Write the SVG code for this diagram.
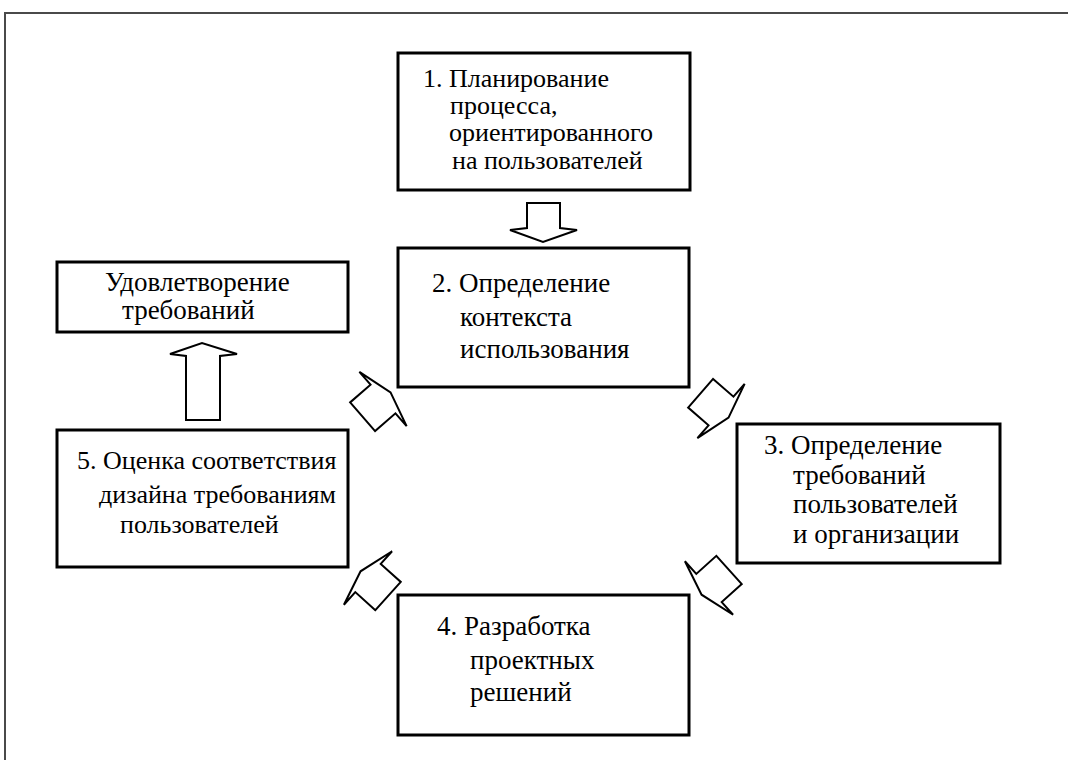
<svg xmlns="http://www.w3.org/2000/svg" width="1068" height="760" viewBox="0 0 1068 760">
<style>
.frame{fill:none;stroke:#4a4a4a;stroke-width:2}
.box{fill:#fff;stroke:#000;stroke-width:3}
.arr{fill:#fff;stroke:#000;stroke-width:2;stroke-linejoin:miter}
.t{font-family:"Liberation Serif","Times New Roman",serif;font-size:27px;fill:#000}
</style>
<defs>
<polygon id="blk" points="-27,-19 0,-19 0,-36 10,0 0,36 0,19 -27,19"/>
</defs>
<rect width="1068" height="760" fill="#fff"/>
<path class="frame" d="M5,770 V13 H1080"/>
<g id="node1" class="t">
<rect class="box" x="398" y="53" width="292" height="137"/>
<text x="423" y="87" font-size="26">1. Планирование</text>
<text x="450" y="114" font-size="26">процесса,</text>
<text x="449" y="141" font-size="26">ориентированного</text>
<text x="452" y="169" font-size="26">на пользователей</text>
</g>
<g id="node2" class="t">
<rect class="box" x="398" y="248" width="291" height="139"/>
<text x="432" y="292">2. Определение</text>
<text x="460" y="326">контекста</text>
<text x="460" y="358">использования</text>
</g>
<g id="node3" class="t">
<rect class="box" x="737" y="424" width="263" height="139"/>
<text x="764" y="454">3. Определение</text>
<text x="793" y="484">требований</text>
<text x="793" y="513">пользователей</text>
<text x="793" y="543">и организации</text>
</g>
<g id="node4" class="t">
<rect class="box" x="398" y="595" width="291" height="140"/>
<text x="437" y="635">4. Разработка</text>
<text x="470" y="669">проектных</text>
<text x="470" y="701">решений</text>
</g>
<g id="node5" class="t">
<rect class="box" x="57" y="430" width="291" height="137"/>
<text x="77" y="469" font-size="26">5. Оценка соответствия</text>
<text x="99" y="503" font-size="26">дизайна требованиям</text>
<text x="120" y="533" font-size="26">пользователей</text>
</g>
<g id="node6" class="t">
<rect class="box" x="57" y="262" width="291" height="70"/>
<text x="105" y="291">Удовлетворение</text>
<text x="122" y="319">требований</text>
</g>
<g id="connectors">
<polygon class="arr" points="527,203 560,203 560,228 577,230 543,242 510,230 527,228"/>
<polygon class="arr" points="186,420 220,420 220,356 237,354 202,343 170,354 186,356"/>
<use href="#blk" class="arr" transform="translate(721,411) rotate(41)"/>
<use href="#blk" class="arr" transform="translate(709,588) rotate(138)"/>
<use href="#blk" class="arr" transform="translate(368,578) rotate(-138)"/>
<use href="#blk" class="arr" transform="translate(383,399) rotate(-41)"/>
</g>
</svg>
